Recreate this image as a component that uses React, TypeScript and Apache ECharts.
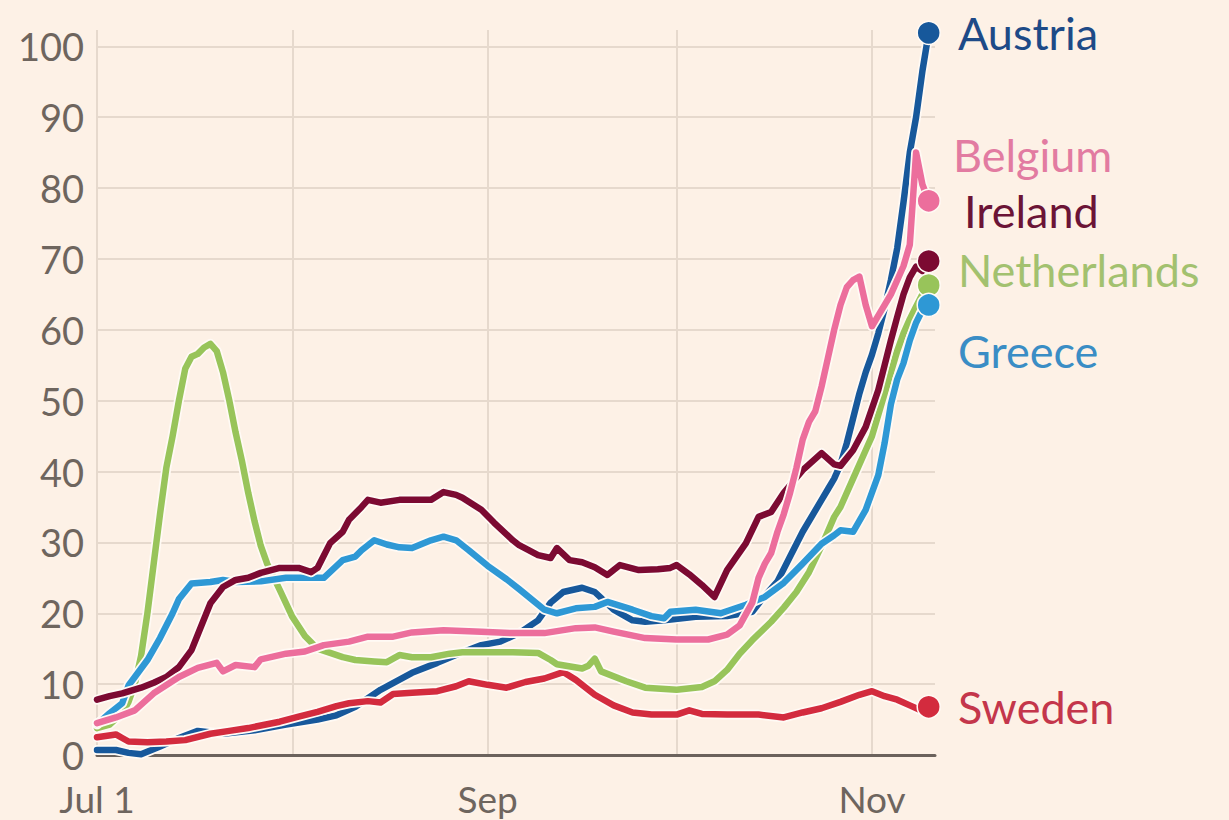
import { useEffect, useRef } from 'react';
import * as echarts from 'echarts';

// x axis: one category per day, Jul 1 (0) .. Nov 11 (133)
const dayCount = 134;
const monthStartDays = [0, 31, 62, 92, 123];
const monthTickLabels = ['Jul 1', '', 'Sep', '', 'Nov'];
const yMax = 102.3;
const yInterval = 10;

// [day since Jul 1, value]
const austria: [number, number][] = [
  [0, 0.7], [3, 0.7], [5, 0.3], [7, 0.1], [10, 1.2], [13, 2.4], [16, 3.4], [20, 3.0], [25, 3.5], [30, 4.3],
  [35, 5.0], [38, 5.6], [41, 6.8], [45, 9.2], [50, 11.6], [54, 13.0], [58, 14.5], [61, 15.5], [64, 16.0],
  [67, 17.2], [70, 19.0], [72, 21.5], [74, 23.0], [77, 23.6], [79, 23.0], [82, 20.5], [85, 19.0], [87, 18.8],
  [90, 19.0], [95, 19.5], [100, 19.6], [104, 20.2], [106, 22.5], [108, 24.5], [110, 28.0], [112, 31.5],
  [115, 36.0], [116, 37.5], [117, 39.0], [118, 41.0], [119, 44.0], [120, 47.5], [121, 51.0], [122, 54.0],
  [123, 56.5], [124, 59.5], [125, 63.0], [126, 67.0], [127, 71.5], [128, 78.0], [129, 85.0], [130, 90.0],
  [131, 96.5], [132, 101.9],
];
const belgium: [number, number][] = [
  [0, 4.5], [3, 5.3], [6, 6.3], [9, 8.7], [13, 11.0], [16, 12.3], [19, 13.0], [20, 11.8], [22, 12.7],
  [25, 12.4], [26, 13.5], [30, 14.3], [33, 14.6], [36, 15.5], [40, 16.0], [43, 16.7], [47, 16.7], [50, 17.3],
  [55, 17.6], [61, 17.4], [66, 17.2], [71, 17.2], [76, 17.9], [79, 18.0], [82, 17.4], [87, 16.5], [92, 16.3],
  [97, 16.3], [100, 17.0], [102, 18.3], [104, 21.5], [105, 25.0], [106, 27.0], [107, 28.5], [108, 31.5],
  [109, 34.0], [110, 37.0], [111, 40.5], [112, 44.5], [113, 47.0], [114, 48.5], [115, 52.0], [116, 56.0],
  [117, 60.0], [118, 63.5], [119, 66.0], [120, 67.0], [121, 67.5], [122, 63.5], [123, 60.5], [124, 62.0],
  [126, 65.0], [128, 69.0], [129, 72.0], [130, 85.0], [131, 80.5], [132, 78.2],
];
const ireland: [number, number][] = [
  [0, 7.8], [2, 8.3], [4, 8.7], [7, 9.5], [9, 10.2], [11, 11.0], [13, 12.4], [15, 14.8], [16, 17.0],
  [18, 21.4], [20, 23.7], [22, 24.7], [24, 25.0], [26, 25.7], [29, 26.4], [32, 26.4], [34, 25.8], [35, 26.4],
  [37, 29.9], [39, 31.5], [40, 33.2], [42, 35.0], [43, 36.0], [45, 35.6], [48, 36.0], [50, 36.0], [53, 36.0],
  [55, 37.1], [57, 36.7], [58, 36.3], [61, 34.6], [63, 32.8], [66, 30.3], [67, 29.6], [70, 28.2], [72, 27.8],
  [73, 29.2], [75, 27.5], [77, 27.2], [79, 26.5], [81, 25.4], [83, 26.8], [86, 26.1], [89, 26.2], [91, 26.4],
  [92, 26.8], [94, 25.5], [96, 24.0], [98, 22.3], [100, 26.1], [103, 29.9], [105, 33.6], [107, 34.3],
  [109, 37.0], [112, 40.2], [115, 42.6], [117, 41.0], [118, 40.8], [120, 43.0], [122, 46.3], [124, 51.5],
  [125, 55.0], [126, 58.5], [127, 61.8], [128, 65.0], [129, 67.4], [130, 68.9], [131, 68.3], [132, 69.7],
];
const netherlands: [number, number][] = [
  [0, 3.8], [2, 4.3], [4, 5.9], [5, 7.5], [6, 10.0], [7, 14.0], [8, 20.0], [9, 27.0], [10, 34.0], [11, 40.5],
  [12, 45.0], [13, 50.0], [14, 54.5], [15, 56.2], [16, 56.6], [17, 57.5], [18, 58.0], [19, 57.0], [20, 54.0],
  [21, 50.0], [22, 45.5], [23, 41.5], [24, 37.0], [25, 33.0], [26, 29.5], [27, 27.0], [29, 23.3], [31, 19.5],
  [33, 16.8], [35, 15.0], [37, 14.4], [39, 13.8], [41, 13.4], [44, 13.2], [46, 13.1], [48, 14.1], [50, 13.8],
  [53, 13.8], [56, 14.3], [58, 14.5], [61, 14.5], [66, 14.5], [70, 14.4], [72, 13.4], [73, 12.8], [77, 12.2],
  [78, 12.6], [79, 13.6], [80, 11.8], [84, 10.4], [87, 9.5], [92, 9.2], [96, 9.6], [98, 10.4], [100, 12.0],
  [102, 14.3], [104, 16.2], [107, 18.8], [109, 20.8], [111, 23.0], [113, 25.8], [115, 29.5], [117, 33.6],
  [118, 35.0], [120, 39.0], [122, 43.0], [123, 45.0], [124, 48.0], [125, 51.0], [126, 54.0], [127, 57.0],
  [128, 59.5], [129, 61.5], [130, 63.3], [131, 65.0], [132, 66.3],
];
const greece: [number, number][] = [
  [0, 4.3], [2, 5.9], [4, 7.3], [5, 9.8], [8, 13.4], [10, 16.5], [12, 20.0], [13, 22.0], [15, 24.2],
  [18, 24.4], [20, 24.7], [22, 24.4], [26, 24.5], [30, 25.0], [33, 25.0], [36, 25.0], [39, 27.5], [41, 28.0],
  [42, 28.9], [44, 30.3], [46, 29.7], [48, 29.3], [50, 29.2], [53, 30.3], [55, 30.8], [57, 30.3], [59, 28.9],
  [62, 26.7], [65, 24.8], [67, 23.4], [71, 20.5], [73, 20.0], [76, 20.7], [79, 20.9], [81, 21.6], [85, 20.5],
  [88, 19.6], [90, 19.3], [91, 20.2], [95, 20.5], [99, 20.0], [103, 21.2], [106, 22.3], [109, 24.3],
  [112, 27.0], [115, 29.8], [117, 31.0], [118, 31.7], [120, 31.5], [122, 34.6], [124, 39.5], [125, 44.0],
  [126, 49.5], [127, 53.0], [128, 55.3], [129, 58.5], [130, 61.0], [131, 62.8], [132, 63.5],
];
const sweden: [number, number][] = [
  [0, 2.5], [3, 2.9], [4, 2.4], [5, 1.9], [8, 1.8], [11, 1.9], [14, 2.1], [18, 3.0], [21, 3.4], [24, 3.8],
  [29, 4.7], [32, 5.4], [35, 6.1], [38, 6.9], [40, 7.3], [43, 7.6], [45, 7.4], [47, 8.6], [50, 8.8], [54, 9.0],
  [57, 9.7], [59, 10.4], [62, 9.9], [65, 9.5], [68, 10.3], [71, 10.8], [74, 11.7], [76, 10.6], [79, 8.5],
  [82, 7.0], [85, 6.0], [88, 5.7], [92, 5.7], [94, 6.3], [96, 5.8], [100, 5.7], [105, 5.7], [109, 5.3],
  [112, 6.0], [115, 6.6], [118, 7.5], [121, 8.5], [123, 9.0], [125, 8.3], [127, 7.8], [129, 7.0], [131, 6.2],
  [132, 6.8],
];

const countryNames = ['Austria', 'Sweden', 'Netherlands', 'Greece', 'Ireland', 'Belgium'];
const countryData = [austria, sweden, netherlands, greece, ireland, belgium];
const lineColors = ['#17589B', '#D32B3E', '#98C45A', '#2E98D5', '#7C0A32', '#EC6E9C'];
const labelColors = ['#1D4A87', '#C4364B', '#A3C16F', '#3A8DC5', '#6B1436', '#E27BA1'];
const labelOffsets: [number, number][] = [[0, 0], [0, 0], [0, -15], [0, 46], [6, -50], [-5, -46]];

const BG = '#FDF1E6';
const HALO = '#FFFAF5';
const GRID = '#E6D9CD';
const FONT = 'Lato, "Open Sans", sans-serif';

export default function App() {
  const ref = useRef<HTMLDivElement>(null);
  useEffect(() => {
    if (!ref.current) return;
    const chart = echarts.init(ref.current, undefined, { renderer: 'svg' });
    const categories = Array.from({ length: dayCount }, (_, i) => String(i));
    const series: any[] = [];
    countryNames.forEach((name, k) => {
      const pts = countryData[k];
      series.push({
        type: 'line',
        name: name + '-halo',
        data: pts,
        symbol: 'none',
        silent: true,
        clip: false,
        lineStyle: { width: 10, color: HALO, join: 'round', cap: 'round' },
      });
      const last = pts.length - 1;
      series.push({
        type: 'line',
        name,
        clip: false,
        symbol: 'none',
        showSymbol: true,
        showAllSymbol: true,
        lineStyle: { width: 6.5, color: lineColors[k], join: 'round', cap: 'round' },
        itemStyle: { color: lineColors[k] },
        data: pts.map((p, i) =>
          i === last
            ? {
                value: p,
                symbol: 'circle',
                symbolSize: 23,
                itemStyle: { color: lineColors[k], borderColor: HALO, borderWidth: 1.5 },
                label: {
                  show: true,
                  position: 'right',
                  distance: 17,
                  offset: labelOffsets[k],
                  formatter: name,
                  color: labelColors[k],
                  fontSize: 45,
                  fontFamily: FONT,
                },
              }
            : p
        ),
      });
    });

    chart.setOption({
      animation: false,
      backgroundColor: BG,
      textStyle: { fontFamily: FONT },
      grid: { left: 97, right: 294, top: 30, bottom: 65, containLabel: false },
      xAxis: {
        type: 'category',
        data: categories,
        boundaryGap: false,
        axisLine: { show: true, lineStyle: { color: '#6B625C', width: 3 } },
        axisTick: { show: false },
        axisLabel: {
          interval: (idx: number) => monthStartDays.includes(idx),
          formatter: (_v: string, idx: number) => {
            const j = monthStartDays.indexOf(idx);
            return j >= 0 ? monthTickLabels[j] : '';
          },
          color: '#6E655E',
          fontSize: 37,
          lineHeight: 38,
          fontFamily: FONT,
          margin: 24,
        },
        splitLine: {
          show: true,
          interval: (idx: number) => monthStartDays.includes(idx),
          lineStyle: { color: GRID, width: 2 },
        },
      },
      yAxis: {
        type: 'value',
        min: 0,
        max: yMax,
        interval: yInterval,
        axisLine: { show: false },
        axisTick: { show: false },
        axisLabel: {
          formatter: (v: number) => (Math.abs(v % 10) < 1e-6 ? String(v) : ''),
          color: '#6E655E',
          fontSize: 38,
          lineHeight: 38,
          fontFamily: FONT,
          margin: 13,
        },
        splitLine: {
          show: true,
          showMaxLine: false,
          lineStyle: {
            color: [GRID, GRID, GRID, GRID, GRID, GRID, GRID, GRID, GRID, GRID, GRID, 'rgba(0,0,0,0)'],
            width: 2,
          },
        },
      },
      series,
    });
    return () => chart.dispose();
  }, []);
  return (
    <div
      ref={ref}
      style={{ position: 'fixed', left: 0, top: 0, width: 1229, height: 820, background: BG }}
    />
  );
}
